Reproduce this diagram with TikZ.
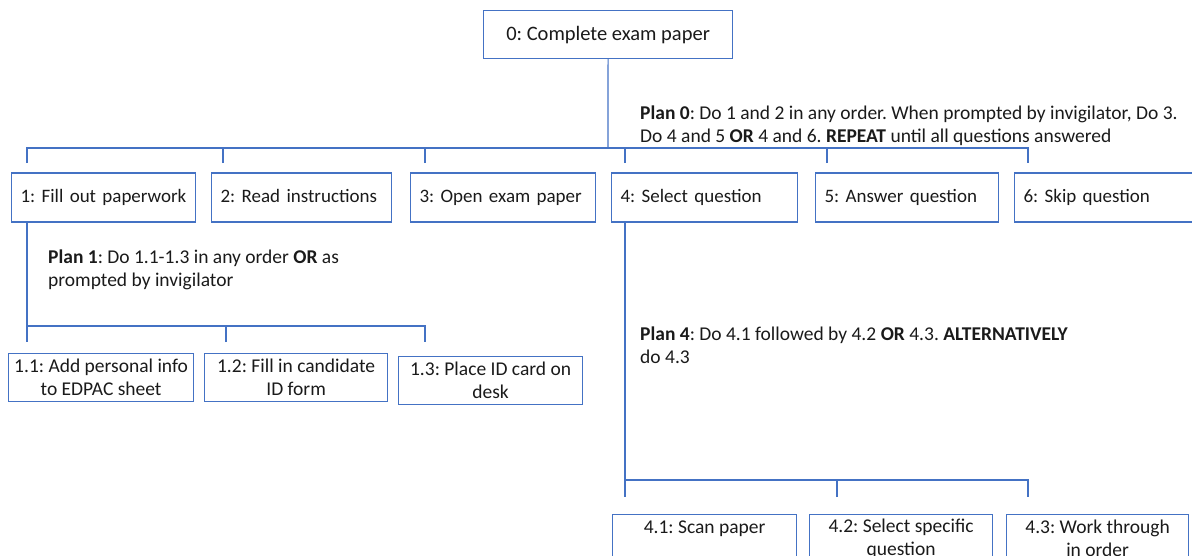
\documentclass[tikz,border=0pt]{standalone}
\usepackage{fontspec}
\setmainfont{Carlito}
\usetikzlibrary{calc}
\definecolor{boxblue}{HTML}{4472C4}
\definecolor{txt}{HTML}{1A1A1A}
\frenchspacing
\begin{document}
\frenchspacing
\begin{tikzpicture}[x=1pt,y=-1pt,
  box/.style={draw=boxblue, line width=1.2pt, rectangle, inner sep=0pt, text=txt},
  lbox/.style={box, align=left, inner xsep=9pt, minimum height=49pt, anchor=west,
    text height=13.5pt, text depth=4.5pt, font=\fontsize{19}{23}\selectfont},
  cbox/.style={box, align=center, minimum height=48pt, anchor=north west,
    font=\fontsize{19.5}{23}\selectfont},
  conn/.style={draw=boxblue, line width=1.2pt},
  plan/.style={inner sep=0pt, anchor=north west, align=left, text=txt,
    font=\fontsize{19.5}{22.5}\selectfont}]
\useasboundingbox (0,0) rectangle (1192,555);
\clip (0,0) rectangle (1192,555);

% level 0
\node[box, align=center, minimum width=249pt, minimum height=48pt, anchor=north west,
  font=\fontsize{20.5}{24}\selectfont] (n0) at (483,10) {0: Complete exam paper};

% level 1
\node[lbox, text width=166pt] (n1) at (11,197.5) {1: Fill out paperwork};
\node[lbox, text width=162pt] (n2) at (211,197.5) {2: Read instructions};
\node[lbox, text width=167pt] (n3) at (410,197.5) {3: Open exam paper};
\node[lbox, text width=168pt] (n4) at (611,197.5) {4: Select question};
\node[lbox, text width=165pt] (n5) at (815,197.5) {5: Answer question};
\node[lbox, text width=173pt] (n6) at (1014,197.5) {6: Skip question};

% level 2 (under 1)
\node[cbox, minimum width=185pt] (n11) at (8,353) {1.1: Add personal info\\to EDPAC sheet};
\node[cbox, minimum width=183pt] (n12) at (204,353) {1.2: Fill in candidate\\ID form};
\node[cbox, minimum width=184pt] (n13) at (398,356) {1.3: Place ID card on\\desk};

% level 2 (under 4)
\node[cbox, minimum width=184pt] (n41) at (612,514) {4.1: Scan paper\\~};
\node[cbox, minimum width=183pt] (n42) at (809,514) {4.2: Select specific\\question};
\node[cbox, minimum width=182pt] (n43) at (1006,514) {4.3: Work through\\in order};

% plans
\node[plan] (p0) at (640,106) {\textbf{Plan 0}: Do 1 and 2 in any order. When prompted by invigilator, Do 3.\\Do 4 and 5 \textbf{OR} 4 and 6. \textbf{REPEAT} until all questions answered};
\node[plan] (p1) at (48,250) {\textbf{Plan 1}: Do 1.1-1.3 in any order \textbf{OR} as\\prompted by invigilator};
\node[plan] (p4) at (640,327) {\textbf{Plan 4}: Do 4.1 followed by 4.2 \textbf{OR} 4.3. \textbf{ALTERNATIVELY}\\do 4.3};

% connectors level 0 -> 1
\coordinate (j0) at (608,148);
\coordinate (t1) at (27,163);
\coordinate (t2) at (223,163);
\coordinate (t3) at (425,163);
\coordinate (t4) at (625,163);
\coordinate (t5) at (827,163);
\coordinate (t6) at (1028,163);
\draw[conn] (n0.south) -- (j0);
\draw[conn] (t1) |- (j0) -| (t6);
\foreach \t in {t2,t3,t4,t5} \draw[conn] (\t) -- (\t |- j0);

% connectors 1 -> 1.x
\coordinate (j1) at (27,326);
\coordinate (u1) at (27,342);
\coordinate (u2) at (226,342);
\coordinate (u3) at (425,342);
\draw[conn] ($(n1.south west)+(16,0)$) -- (u1);
\draw[conn] (j1) -| (u3);
\draw[conn] (u2) -- (u2 |- j1);

% connectors 4 -> 4.x
\coordinate (j4) at (625,480);
\coordinate (v1) at (625,497);
\coordinate (v2) at (837,497);
\coordinate (v3) at (1028,497);
\draw[conn] ($(n4.south west)+(14,0)$) -- (v1);
\draw[conn] (j4) -| (v3);
\draw[conn] (v2) -- (v2 |- j4);
\end{tikzpicture}
\end{document}
